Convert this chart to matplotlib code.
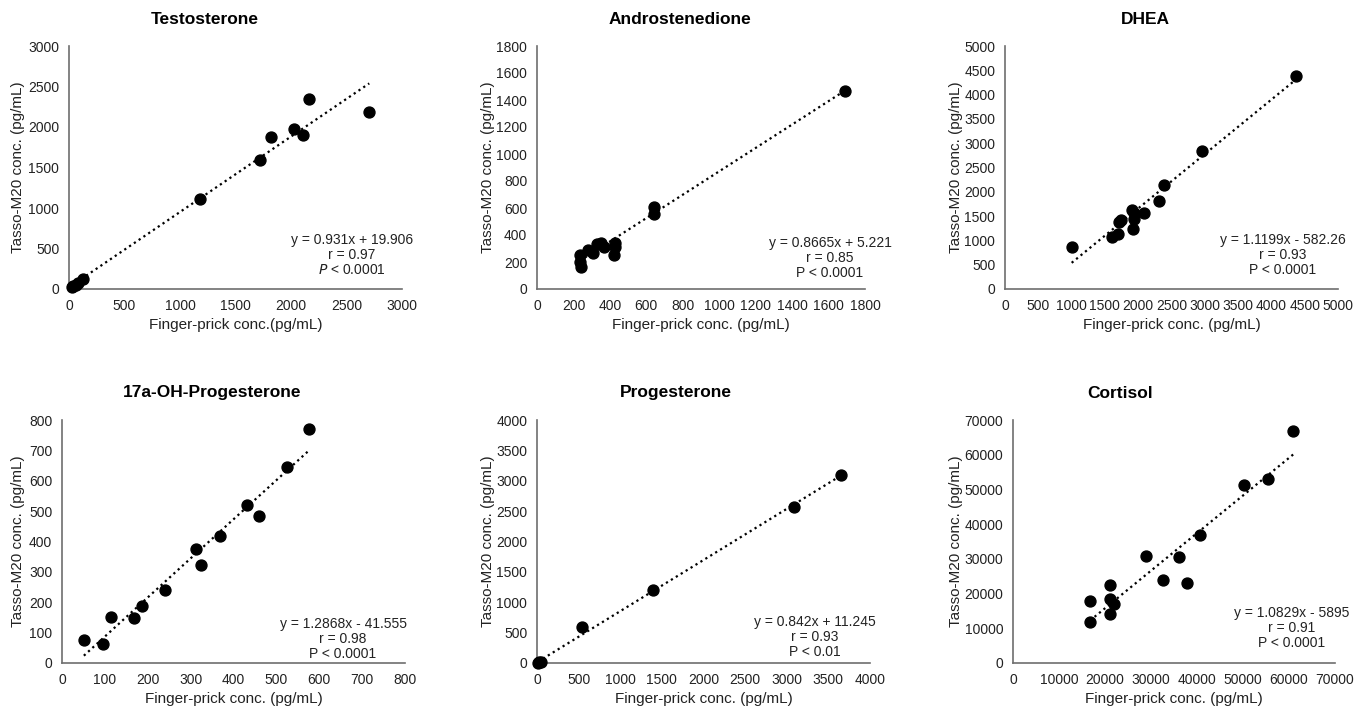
import numpy as np
import matplotlib
matplotlib.use("Agg")
import matplotlib.pyplot as plt

plt.rcParams['font.family'] = ['Liberation Sans', 'DejaVu Sans']

titles = ["Testosterone", "Androstenedione", "DHEA",
          "17a-OH-Progesterone", "Progesterone", "Cortisol"]

testo_x = [25, 40, 60, 85, 130, 1177, 1724, 1820, 2027, 2105, 2165, 2705]
testo_y = [20, 35, 55, 80, 120, 1107, 1589, 1877, 1972, 1905, 2349, 2189]

andro_x = [236, 236, 240, 282, 306, 331, 350, 365, 429, 429, 420, 640, 640, 1690]
andro_y = [252, 202, 160, 289, 264, 333, 338, 309, 343, 309, 252, 610, 556, 1467]

dhea_x = [1001, 1607, 1692, 1717, 1742, 1922, 1932, 1932, 1912, 2092, 2317, 2392, 2954, 4370]
dhea_y = [857, 1077, 1126, 1385, 1420, 1241, 1440, 1557, 1625, 1570, 1811, 2146, 2833, 4390]

ohp_x = [51, 96, 114, 167, 186, 241, 313, 324, 368, 431, 459, 525, 575]
ohp_y = [75, 64, 151, 147, 188, 240, 374, 323, 417, 519, 485, 646, 770]

prog_x = [12, 25, 45, 545, 1394, 3093, 3646]
prog_y = [5, 12, 22, 592, 1206, 2560, 3098]

cort_x = [16760, 16760, 21190, 21190, 21190, 22060, 28870, 32570, 35990, 37730, 40560, 50200, 55350, 60920]
cort_y = [17840, 11880, 22530, 18300, 14180, 17060, 30870, 24050, 30580, 23010, 37000, 51200, 53020, 66830]

slopes = [0.931, 0.8665, 1.1199, 1.2868, 0.842, 1.0829]
intercepts = [19.906, 5.221, -582.26, -41.555, 11.245, -5895]
eq_texts = ["y = 0.931x + 19.906", "y = 0.8665x + 5.221", "y = 1.1199x - 582.26",
            "y = 1.2868x - 41.555", "y = 0.842x + 11.245", "y = 1.0829x - 5895"]
r_texts = ["r = 0.97", "r = 0.85", "r = 0.93", "r = 0.98", "r = 0.93", "r = 0.91"]
p_texts = [r"$P$ < 0.0001", "P < 0.0001", "P < 0.0001", "P < 0.0001", "P < 0.01", "P < 0.0001"]

x_ticks = [np.arange(0, 3001, 500), np.arange(0, 1801, 200), np.arange(0, 5001, 500),
           np.arange(0, 801, 100), np.arange(0, 4001, 500), np.arange(0, 70001, 10000)]
y_ticks = [np.arange(0, 3001, 500), np.arange(0, 1801, 200), np.arange(0, 5001, 500),
           np.arange(0, 801, 100), np.arange(0, 4001, 500), np.arange(0, 70001, 10000)]
x_labels = ["Finger-prick conc.(pg/mL)", "Finger-prick conc. (pg/mL)", "Finger-prick conc. (pg/mL)",
            "Finger-prick conc. (pg/mL)", "Finger-prick conc. (pg/mL)", "Finger-prick conc. (pg/mL)"]
y_label = "Tasso-M20 conc. (pg/mL)"

xs = [testo_x, andro_x, dhea_x, ohp_x, prog_x, cort_x]
ys = [testo_y, andro_y, dhea_y, ohp_y, prog_y, cort_y]

W, H = 1354, 708
fig = plt.figure(figsize=(W / 100, H / 100), dpi=100)

# pixel boxes: left, right, top, bottom
boxes = [(69, 402, 46, 289), (537, 865, 46, 289), (1005, 1338, 46, 289),
         (62, 405, 420, 663), (537, 870, 420, 663), (1013, 1335, 420, 663)]
title_pos = [(205, 20), (680, 20), (1145, 20), (212, 393), (676, 393), (1120, 393)]
ann_pos = [(352, 240), (830, 243), (1283, 240), (343, 624), (815, 622), (1292, 613)]
ylabel_x = [18, 488, 956, 18, 488, 956]

for i in range(6):
    l, r, t, b = boxes[i]
    ax = fig.add_axes([l / W, 1 - b / H, (r - l) / W, (b - t) / H])
    xt, yt = x_ticks[i], y_ticks[i]
    ax.set_xlim(xt[0], xt[-1])
    ax.set_ylim(yt[0], yt[-1])
    ax.set_xticks(xt)
    ax.set_yticks(yt)
    ax.tick_params(length=0, labelsize=10, pad=7, colors='#222222')
    for s in ['top', 'right']:
        ax.spines[s].set_visible(False)
    for s in ['left', 'bottom']:
        ax.spines[s].set_color('#6e6e6e')
        ax.spines[s].set_linewidth(1.2)
    x = np.array(xs[i], dtype=float)
    y = np.array(ys[i], dtype=float)
    lx = np.array([x.min(), x.max()])
    ax.plot(lx, slopes[i] * lx + intercepts[i], linestyle=(0, (1, 1.6)), color='black',
            linewidth=1.6, zorder=2)
    ax.scatter(x, y, s=62, color='black', zorder=3, clip_on=False)
    ax.set_xlabel(x_labels[i], fontsize=11, labelpad=4, color='#222222')
    tx, ty = title_pos[i]
    fig.text(tx / W, 1 - ty / H, titles[i], fontsize=12.5, fontweight='bold',
             ha='center', va='center')
    ax_, ay_ = ann_pos[i]
    for k, txt in enumerate([eq_texts[i], r_texts[i], p_texts[i]]):
        fig.text(ax_ / W, 1 - (ay_ + 15 * k) / H, txt, fontsize=10, ha='center', va='center',
                 color='#222222')
    fig.text(ylabel_x[i] / W, 1 - ((t + b) / 2) / H, y_label, rotation=90, fontsize=11,
             ha='center', va='center', color='#222222')

fig.savefig("out.png", dpi=100, facecolor='white')
